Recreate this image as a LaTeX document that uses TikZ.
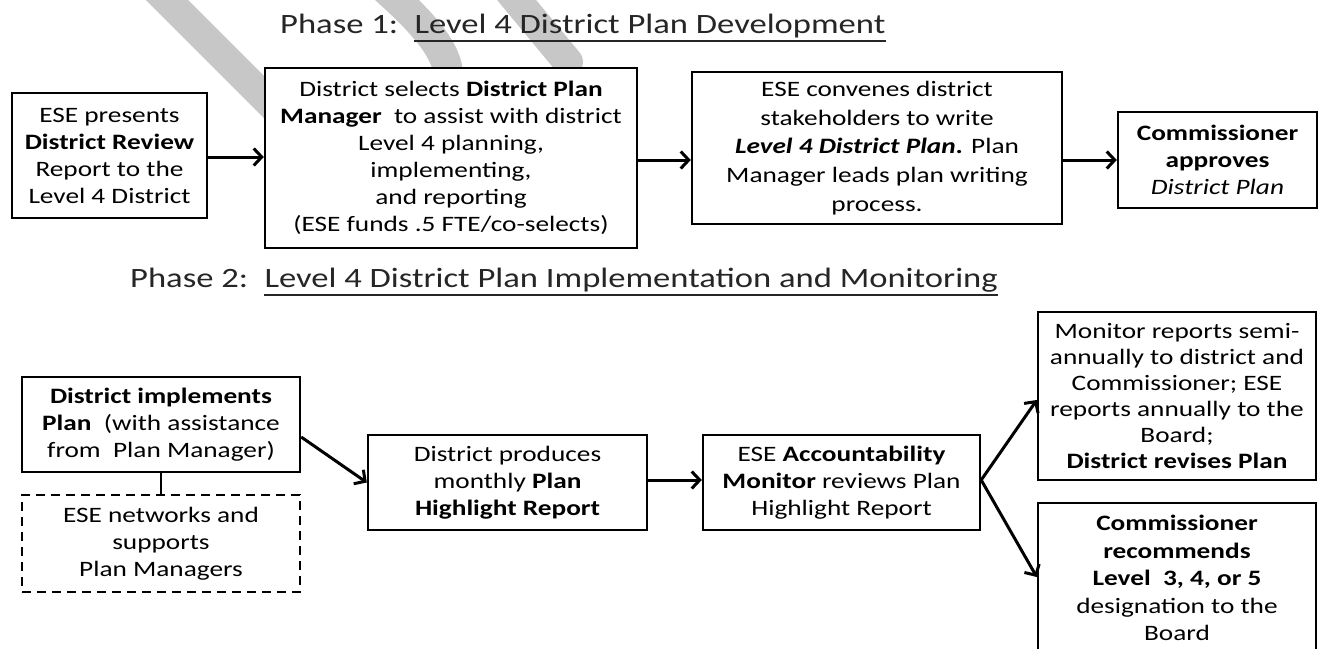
\documentclass[tikz,border=0pt]{standalone}
\usepackage{fontspec}
\setmainfont{Carlito}[FakeStretch=1.24]
\newfontfamily\ttlfont{Carlito}[FakeStretch=1.235]
\usetikzlibrary{arrows.meta}
\begin{document}
\begin{tikzpicture}[x=1pt,y=-1pt,
  box/.style={draw, line width=2.4pt, fill=white, inner sep=0pt, align=center,
    font=\fontsize{22}{27}\selectfont},
  dbox/.style={box, dash pattern=on 9pt off 6pt},
  arr/.style={line width=3pt, -{Straight Barb[length=8pt,width=17pt]}},
  link/.style={line width=2.4pt},
  wm/.style={line width=30pt, draw=black!22, line cap=round},
  ttl/.style={font=\ttlfont\fontsize{28}{34}\selectfont, inner sep=0pt, anchor=base west, text=black!85},
  uline/.style={line width=2pt, draw=black!85}]
\useasboundingbox (0,0) rectangle (1320,648);
\clip (0,0) rectangle (1320,648);
% watermark strokes
\draw[wm] (150,-17) -- (290,123);
\draw[wm] (375,-20) .. controls (415,15) and (445,45) .. (448,72);
\draw[wm] (500,-20) -- (568,62);
% titles
\node[ttl] (t1a) at (280,33) {Phase 1:};
\node[ttl] (t1b) at ([xshift=16pt]t1a.base east) {Level 4 District Plan Development};
\draw[uline] ([yshift=-8pt]t1b.base west) -- ([yshift=-8pt]t1b.base east);
\node[ttl] (t2a) at (130,287) {Phase 2:};
\node[ttl] (t2b) at ([xshift=16pt]t2a.base east) {Level 4 District Plan Implementation and Monitoring};
\draw[uline] ([yshift=-8pt]t2b.base west) -- ([yshift=-8pt]t2b.base east);
% phase 1 boxes
\node[box, minimum width=195pt, minimum height=125pt] (a) at (109.5,155.5)
  {ESE presents\\ \textbf{District Review}\\ Report to the\\ Level 4 District};
\node[box, minimum width=372pt, minimum height=180pt] (b) at (451,158)
  {District selects \textbf{District Plan}\\ \textbf{Manager}\ \ to assist with district\\ Level 4 planning,\\ implementing,\\ and reporting\\ (ESE funds .5 FTE/co-selects)};
\node[box, minimum width=370pt, minimum height=152pt, font=\fontsize{22}{28.7}\selectfont] (c) at (877,148)
  {ESE convenes district\\ stakeholders to write\\ \textbf{\textit{Level 4 District Plan}.} Plan\\ Manager leads plan writing\\ process.};
\node[box, minimum width=199pt, minimum height=96pt] (d) at (1217.5,160)
  {\textbf{Commissioner}\\ \textbf{approves}\\ \textit{District Plan}};
\draw[arr] (a.east |- 0,157) -- (b.west |- 0,157);
\draw[arr] (b.east |- 0,160) -- (c.west |- 0,160);
\draw[arr] (c.east |- 0,160) -- (d.west |- 0,160);
% phase 2 boxes
\node[box, minimum width=278pt, minimum height=95pt] (e) at (161,424.5)
  {\textbf{District implements}\\ \textbf{Plan}\ \ (with assistance\\ from\ \ Plan Manager)};
\node[dbox, minimum width=278pt, minimum height=97pt] (f) at (161,543.5)
  {ESE networks and\\ supports\\ Plan Managers};
\draw[link] (e.south) -- (f.north);
\node[box, minimum width=279pt, minimum height=95pt] (g) at (507.5,482.5)
  {District produces\\ monthly \textbf{Plan}\\ \textbf{Highlight Report}};
\node[box, minimum width=277pt, minimum height=95pt] (h) at (841.5,482.5)
  {ESE \textbf{Accountability}\\ \textbf{Monitor} reviews Plan\\ Highlight Report};
\node[box, minimum width=278pt, minimum height=168pt, font=\fontsize{22}{26}\selectfont] (i) at (1177,396)
  {Monitor reports semi-\\ annually to district and\\ Commissioner; ESE\\ reports annually to the\\ Board;\\ \textbf{District revises Plan}};
\node[box, anchor=north, minimum width=278pt, minimum height=150pt, font=\fontsize{22}{27.5}\selectfont] (j) at (1177,502)
  {\textbf{Commissioner}\\ \textbf{recommends}\\ \textbf{Level\ \ 3, 4, or 5}\\ designation to the\\ Board};
\coordinate (hx) at (h.east |- 0,480);
\draw[arr] (e.east |- 0,437) -- (g.west);
\draw[arr] (g.east |- 0,480) -- (h.west |- 0,480);
\draw[arr] (hx) -- (i.west |- 0,400);
\draw[arr] (hx) -- (j.west |- 0,577);
\end{tikzpicture}
\end{document}
